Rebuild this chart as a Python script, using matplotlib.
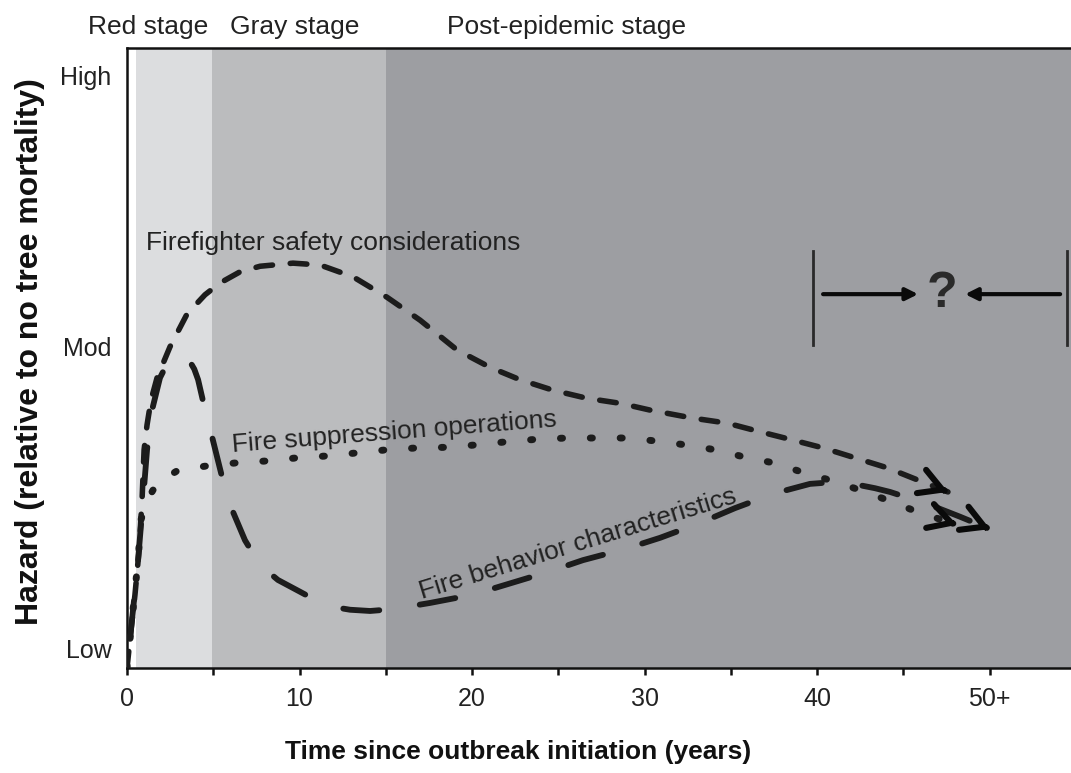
import matplotlib
matplotlib.use("Agg")
import matplotlib.pyplot as plt

plt.rcParams['font.family'] = ['Liberation Sans', 'DejaVu Sans']

# ---- data -------------------------------------------------------------
stage_names = ["Red stage", "Gray stage", "Post-epidemic stage"]
stage_edges = [0.5, 4.9, 15.0, 56.0]
stage_colors = ["#dcdddf", "#bbbcbe", "#9d9ea2"]
stage_label_x = [1.25, 9.7, 25.45]

x_ticks = [0, 5, 10, 15, 20, 25, 30, 35, 40, 45, 50]
x_tick_labels = ["0", "", "10", "", "20", "", "30", "", "40", "", "50+"]

hazard_levels = [3.2, 51.9, 95.6]
hazard_labels = ["Low", "Mod", "High"]

firefighter_years = [0, 0.23, 0.46, 0.70, 0.87, 0.99, 1.16, 1.39, 1.74, 2.49,
                     3.48, 4.52, 5.39, 6.55, 7.71, 9.62, 11.19, 13.10, 15.07,
                     16.99, 19.13, 21.04, 22.78, 24.70, 26.67, 28.58, 30.32,
                     32.81, 34.78, 36.70, 38.55, 40.35, 42.20, 44.06, 45.86,
                     47.59]
firefighter_hazard = [0, 6.1, 11.8, 19.0, 27.1, 35.2, 39.2, 43.2, 46.8, 51.8,
                      57.1, 60.2, 62.1, 63.9, 64.8, 65.3, 65.0, 63.1, 59.8,
                      56.1, 51.3, 48.5, 46.5, 44.8, 43.5, 42.7, 41.6,
                      40.3, 39.5, 38.1, 36.8, 35.5, 33.9, 32.3, 30.3,
                      28.4]

suppression_years = [0, 0.35, 0.64, 0.81, 1.16, 1.51, 2.20, 2.96, 4.64, 6.38,
                     8.12, 9.86, 11.59, 13.33, 15.07, 16.81, 18.55, 20.29,
                     22.03, 23.77, 25.51, 27.25, 28.99, 30.72, 32.35, 34.09,
                     35.83, 37.45, 39.13, 40.87, 42.49, 44.06, 45.80, 48.12]
suppression_hazard = [0, 9.4, 17.4, 23.9, 27.1, 28.7, 30.6, 31.9, 32.6, 33.1,
                      33.4, 33.9, 34.2, 34.7, 35.2, 35.5, 35.6, 36.0,
                      36.5, 36.9, 37.1, 37.1, 37.1, 36.6, 36.0, 35.2,
                      34.0, 33.1, 31.6, 30.2, 28.7, 27.1, 25.2, 23.1]

behavior_years = [0, 0.35, 0.64, 0.93, 1.16, 1.45, 1.91, 2.20, 2.49, 2.78,
                  3.07, 3.36, 3.65, 3.90, 4.12, 4.46, 4.93, 5.51, 6.14, 6.84,
                  7.71, 8.75, 10.03, 10.90, 12.06, 12.93, 14.09, 15.42, 17.57,
                  20.00, 22.03, 24.41, 26.43, 28.87, 30.90, 33.22, 35.25,
                  37.57, 39.59, 41.04, 42.09, 43.36, 44.23, 46.55, 48.29,
                  50.03]
behavior_hazard = [0, 9.4, 17.4, 27.1, 35.2, 41.6, 46.8, 48.4, 49.6, 50.2,
                   50.4, 50.2, 49.4, 48.2, 46.5, 42.4, 37.3, 30.8, 25.2, 20.6,
                   16.6, 14.2, 12.3, 11.0, 9.8, 9.4, 9.2, 9.5, 10.5,
                   11.8, 13.5, 15.5, 17.4, 19.2, 21.0, 23.4, 25.8,
                   28.2, 29.7, 30.0, 29.7, 29.0, 28.4, 26.3, 24.4,
                   22.4]

# ---- figure -----------------------------------------------------------
INK = "#1c1c1c"
TEXT = "#222222"

fig = plt.figure(figsize=(10.71, 7.73), dpi=100)
ax = fig.add_axes([0.1186, 0.1358, 0.8859, 0.8021])
ax.set_xlim(0, 55)
ax.set_ylim(0, 100)

for lo, hi, col in zip(stage_edges[:-1], stage_edges[1:], stage_colors):
    ax.axvspan(lo, hi, color=col, lw=0, zorder=0)

for name, xc in zip(stage_names, stage_label_x):
    ax.text(xc, 102.3, name, ha="center", va="baseline", fontsize=19,
            color=TEXT, clip_on=False)


def end_arrow(xs, ys):
    x1, y1 = xs[-1], ys[-1]
    x0, y0 = xs[-2], ys[-2]
    xt = x1 - 0.12 * (x1 - x0)
    yt = y1 - 0.12 * (y1 - y0)
    ax.annotate("", xy=(x1, y1), xytext=(xt, yt),
                arrowprops=dict(arrowstyle="->,head_length=0.8,head_width=0.45",
                                lw=4.4, color="#0a0a0a", mutation_scale=20,
                                shrinkA=0, shrinkB=0),
                zorder=5)


ax.plot(firefighter_years, firefighter_hazard, color=INK, lw=4.0,
        linestyle=(0, (3.0, 3.2)), dash_capstyle="round", zorder=3)
ax.plot(suppression_years, suppression_hazard, color=INK, lw=5.0,
        linestyle=(0, (0.3, 4.0)), dash_capstyle="round", zorder=3)
ax.plot(behavior_years, behavior_hazard, color=INK, lw=4.2,
        linestyle=(7.8, (6.2, 7.0)), dash_capstyle="round", zorder=3)

end_arrow(firefighter_years, firefighter_hazard)
end_arrow(suppression_years, suppression_hazard)
end_arrow(behavior_years, behavior_hazard)

ax.text(1.1, 67.4, "Firefighter safety considerations", fontsize=19,
        color=TEXT, ha="left", va="baseline")
ax.text(6.1, 34.8, "Fire suppression operations", fontsize=19, color=TEXT,
        ha="left", va="baseline", rotation=4.5, rotation_mode="anchor")
ax.text(17.1, 11.2, "Fire behavior characteristics", fontsize=19,
        color=TEXT, ha="left", va="baseline", rotation=17,
        rotation_mode="anchor")

# uncertain long-term trajectory bracket
ax.plot([39.77, 39.77], [52.1, 67.3], color="#2a2a2a", lw=2.0)
ax.plot([54.49, 54.49], [52.1, 67.3], color="#2a2a2a", lw=2.0)
bracket_arrow = dict(arrowstyle="-|>,head_length=0.6,head_width=0.3",
                     lw=3.0, color="#0a0a0a", mutation_scale=12,
                     shrinkA=0, shrinkB=0)
ax.annotate("", xy=(45.86, 60.3), xytext=(40.35, 60.3),
            arrowprops=bracket_arrow)
ax.annotate("", xy=(48.58, 60.3), xytext=(54.09, 60.3),
            arrowprops=bracket_arrow)
ax.text(47.25, 60.3, "?", fontsize=36, fontweight="bold", color="#2a2a2a",
        ha="center", va="center")

# axes styling
for side in ("left", "bottom", "top"):
    ax.spines[side].set_linewidth(1.8)
    ax.spines[side].set_color("#111111")
ax.spines["right"].set_visible(False)

ax.set_xticks(x_ticks)
ax.set_xticklabels(x_tick_labels)
ax.tick_params(axis="x", direction="out", length=5, width=1.8,
               labelsize=18, pad=9, colors="#111111", labelcolor=TEXT)
ax.set_yticks(hazard_levels)
ax.set_yticklabels(hazard_labels)
ax.tick_params(axis="y", length=0, labelsize=18, pad=11, labelcolor=TEXT)

fig.text(518 / 1071, 1 - 752 / 773, "Time since outbreak initiation (years)",
         fontsize=19, fontweight="bold", color="#111111",
         ha="center", va="center")
fig.text(30 / 1071, 1 - 352 / 773, "Hazard (relative to no tree mortality)",
         fontsize=23, fontweight="bold", color="#111111", rotation=90,
         ha="center", va="center")

fig.savefig("out.png", dpi=100)
